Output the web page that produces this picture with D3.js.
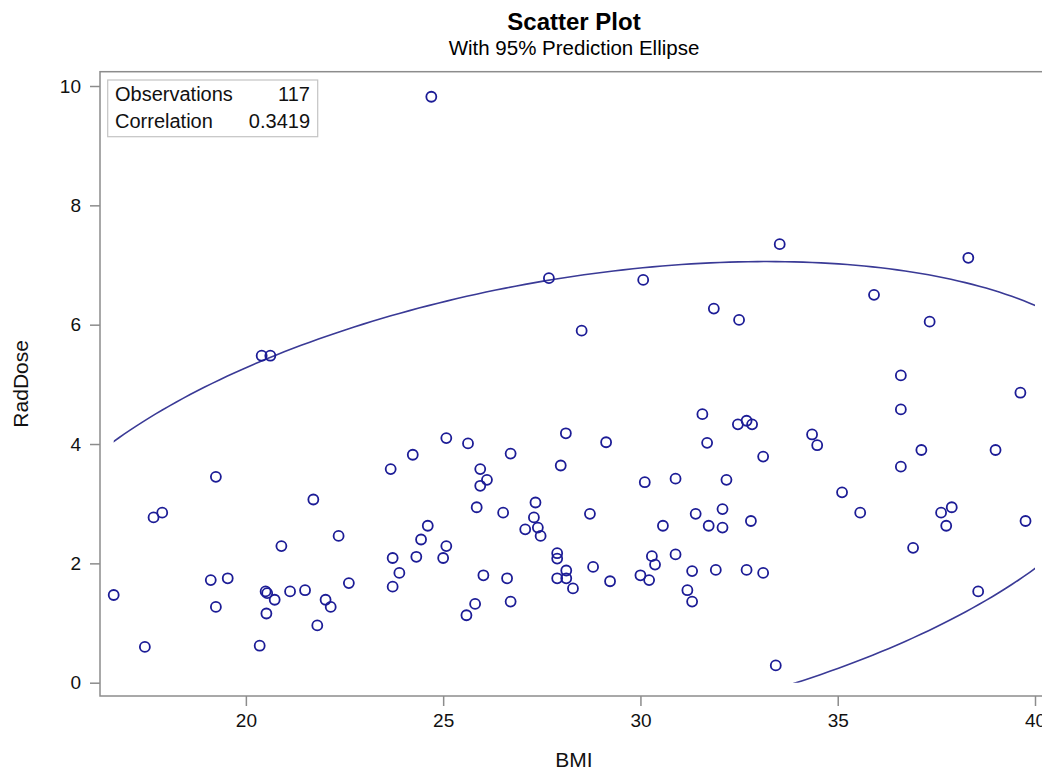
<!DOCTYPE html>
<html><head><meta charset="utf-8">
<script src="https://cdn.jsdelivr.net/npm/d3@7"></script>
<style>body{margin:0;background:#fff} text{font-family:"Liberation Sans",Arial,sans-serif}</style>
</head><body><svg id="c" width="1042" height="770"></svg>
<script>
const bmi = [16.65,17.44,17.66,17.88,19.11,19.54,19.24,19.24,20.35,20.50,20.54,20.73,20.52,20.90,21.12,21.50,21.71,21.81,22.02,22.15,22.35,22.61,20.40,20.62,
  23.72,23.72,23.89,24.32,24.44,24.61,25.00,25.08,25.85,26.52,26.02,25.81,25.59,26.62,26.71,27.08,27.34,27.30,27.40,27.47,27.89,27.89,28.12,28.12,27.89,28.29,
  28.72,28.80,29.23,30.00,30.22,30.29,30.37,30.57,30.89,31.40,31.73,31.31,31.19,31.31,32.08,32.08,32.80,31.91,32.69,33.11,33.43,35.57,37.62,37.89,37.75,39.76,
  36.91,38.56,33.53,38.31,31.86,32.50,35.92,37.33,36.60,36.60,39.63,31.57,32.47,32.69,32.83,31.69,33.11,34.35,34.48,32.18,36.60,37.12,39.00,35.11,27.68,30.07,
  28.51,25.08,25.63,24.23,23.67,25.94,26.11,25.94,26.71,28.11,27.98,29.13,30.11,30.89,24.70];
const radDose = [1.47,0.60,2.77,2.85,1.72,1.75,1.27,3.45,0.62,1.53,1.50,1.39,1.16,2.29,1.53,1.55,3.07,0.96,1.39,1.27,2.46,1.67,5.48,5.48,
  2.09,1.61,1.84,2.11,2.40,2.63,2.09,2.29,2.94,2.85,1.80,1.32,1.13,1.75,1.36,2.57,3.02,2.77,2.60,2.46,2.17,2.08,1.88,1.75,1.75,1.58,
  2.83,1.94,1.70,1.80,1.72,2.12,1.98,2.63,2.15,2.83,2.63,1.87,1.55,1.36,2.91,2.60,2.71,1.89,1.89,1.84,0.29,2.85,2.85,2.94,2.63,2.71,
  2.26,1.53,7.35,7.12,6.27,6.08,6.50,6.05,5.15,4.58,4.86,4.50,4.33,4.39,4.33,4.02,3.79,4.16,3.98,3.40,3.62,3.90,3.90,3.19,6.78,6.75,
  5.90,4.10,4.01,3.82,3.58,3.58,3.40,3.30,3.84,4.18,3.64,4.03,3.36,3.42,9.82];
const xTicks = [20,25,30,35,40];
const yTicks = [0,2,4,6,8,10];
const titleText = "Scatter Plot";
const subtitleText = "With 95% Prediction Ellipse";
const xLabel = "BMI", yLabel = "RadDose";
const statLabels = ["Observations","Correlation"];
const statValues = ["117","0.3419"];
const confLevel = 0.95;

const svg = d3.select("#c");
const frame = {l:100, r:1048.5, t:71.7, b:696};
const pad = 13.7;
const xMin = d3.min(bmi), xMax = d3.max(xTicks);
const x = d3.scaleLinear().domain([xMin, xMax]).range([frame.l + pad, 1035]);
const y = d3.scaleLinear().domain([d3.min(yTicks), d3.max(yTicks)]).range([682.7, 86]);
const axisCol = "#8c8c8c", markCol = "#1c1c96";

// titles
svg.append("text").attr("x",574).attr("y",30).attr("text-anchor","middle")
  .attr("font-size",24).attr("font-weight","bold").attr("fill","#000").text(titleText);
svg.append("text").attr("x",574).attr("y",55).attr("text-anchor","middle")
  .attr("font-size",20.5).attr("fill","#000").text(subtitleText);

// frame
svg.append("rect").attr("x",frame.l).attr("y",frame.t).attr("width",frame.r-frame.l).attr("height",frame.b-frame.t)
  .attr("fill","none").attr("stroke",axisCol).attr("stroke-width",1.5);

// axes
const xAxis = d3.axisBottom(x).tickValues(xTicks).tickSize(10).tickSizeOuter(0).tickPadding(8);
const gx = svg.append("g").attr("transform",`translate(0,${frame.b})`).call(xAxis);
gx.select(".domain").remove();
gx.selectAll("line").attr("stroke",axisCol).attr("stroke-width",1.5);
gx.selectAll("text").attr("font-size",19).attr("fill","#111").attr("font-family","Liberation Sans, Arial, sans-serif");

const yAxis = d3.axisLeft(y).tickValues(yTicks).tickSize(10).tickSizeOuter(0).tickPadding(9);
const gy = svg.append("g").attr("transform",`translate(${frame.l},0)`).call(yAxis);
gy.select(".domain").remove();
gy.selectAll("line").attr("stroke",axisCol).attr("stroke-width",1.5);
gy.selectAll("text").attr("font-size",19).attr("fill","#111").attr("font-family","Liberation Sans, Arial, sans-serif");

svg.append("text").attr("x",574).attr("y",767).attr("text-anchor","middle").attr("font-size",21).attr("fill","#111").text(xLabel);
svg.append("text").attr("transform",`translate(28,${(frame.t+frame.b)/2}) rotate(-90)`).attr("text-anchor","middle")
  .attr("font-size",21).attr("fill","#111").text(yLabel);

// prediction ellipse computed from the data
const n = bmi.length, p = 2;
const mx = d3.mean(bmi), my = d3.mean(radDose);
const sx = d3.deviation(bmi), sy = d3.deviation(radDose);
let cxy = 0; for (let i=0;i<n;i++) cxy += (bmi[i]-mx)*(radDose[i]-my); cxy /= (n-1);
const r = cxy/(sx*sy);
const df2 = n - p;
const Fq = (df2/2)*(Math.pow(1-confLevel, -2/df2) - 1);
const c = Math.sqrt(p*(n+1)*(n-1)/(n*(n-p))*Fq);
const ang = d3.range(0, 361, 1).map(d => d*Math.PI/180);
const ell = ang.map(t => [mx + c*sx*Math.cos(t), my + c*(r*sy*Math.cos(t) + sy*Math.sqrt(1-r*r)*Math.sin(t))]);
svg.append("clipPath").attr("id","clipE").append("rect")
  .attr("x",x(xMin)).attr("y",y(d3.max(yTicks))).attr("width",x(xMax)-x(xMin)).attr("height",y(d3.min(yTicks))-y(d3.max(yTicks)));
svg.append("path").attr("clip-path","url(#clipE)").attr("d", d3.line().x(d=>x(d[0])).y(d=>y(d[1]))(ell))
  .attr("fill","none").attr("stroke","#3a3a96").attr("stroke-width",1.6);

// points
svg.append("g").selectAll("circle").data(bmi.map((b,i)=>[b,radDose[i]])).join("circle")
  .attr("cx",d=>x(d[0])).attr("cy",d=>y(d[1])).attr("r",5)
  .attr("fill","none").attr("stroke",markCol).attr("stroke-width",1.8);

// stats inset
const box = svg.append("g");
box.append("rect").attr("x",107.7).attr("y",80).attr("width",210).attr("height",56.7)
  .attr("fill","#fff").attr("stroke","#c4c4c4").attr("stroke-width",1.2);
statLabels.forEach((s,i)=>{
  box.append("text").attr("x",115).attr("y",100.7+27*i).attr("font-size",20).attr("fill","#111").text(s);
  box.append("text").attr("x",310).attr("y",100.7+27*i).attr("font-size",20).attr("text-anchor","end").attr("fill","#111").text(statValues[i]);
});
</script></body></html>
